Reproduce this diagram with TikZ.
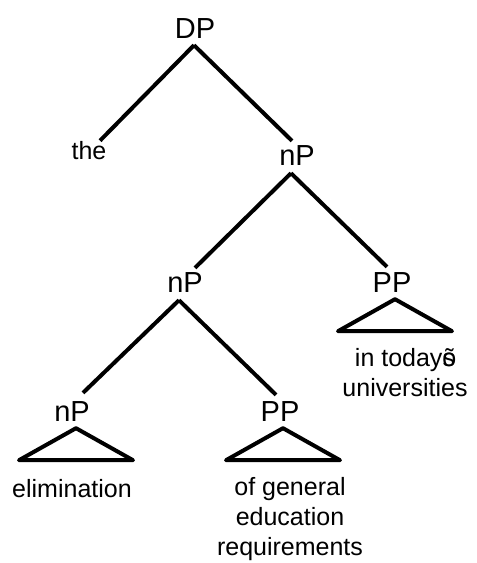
\documentclass[tikz,border=0pt]{standalone}
\usepackage{fontspec}
\setmainfont{Liberation Sans}
\usepackage{tikz}
\usetikzlibrary{calc}

\begin{document}
\begin{tikzpicture}[x=1pt, y=-1pt,
	cat/.style={font=\fontsize{29}{34}\selectfont, inner sep=0pt, anchor=base},
	leaf/.style={font=\fontsize{25}{30}\selectfont, inner sep=0pt, align=center},
	branch/.style={line width=4pt},
	roof/.style={line width=4pt, line join=round}]

	\useasboundingbox (0, 0) rectangle (477, 563);

	% category labels
	\node [cat] (dp) at (195, 38) {DP};
	\node [cat] (np1) at (297, 165) {nP};
	\node [cat] (np2) at (185, 292) {nP};
	\node [cat] (pp1) at (392, 292) {PP};
	\node [cat] (np3) at (72, 421) {nP};
	\node [cat] (pp2) at (280, 421) {PP};

	% words
	\node [leaf, anchor=base] (the) at (89, 159) {the};
	\node [leaf, anchor=north] (univ) at (405, 348) {in today\rlap{õ}s\\universities};
	\node [leaf, anchor=north] (elim) at (72, 479) {elimination};
	\node [leaf, anchor=north] (gened) at (290, 477) {of general\\education\\requirements};

	% branches
	\foreach \p/\c/\px/\py/\cx/\cy in {dp/the/-1/7/11/0, dp/np1/-1/7/-5/4, np1/np2/-6/8/10/4, np1/pp1/-6/8/-5/5, np2/np3/-6/8/11/8, np2/pp2/-6/8/-4/6} {
		\draw [branch] ([shift={(\px pt, -\py pt)}]\p.south) -- ([shift={(\cx pt, \cy pt)}]\c.north);
	}

	% roofs
	\foreach \n/\dx in {pp1/3, np3/4, pp2/3} {
		\draw [roof] ([shift={(\dx pt, -7pt)}]\n.south) -- ++(-57, 32) -- ++(114, 0) -- cycle;
	}

\end{tikzpicture}
\end{document}
